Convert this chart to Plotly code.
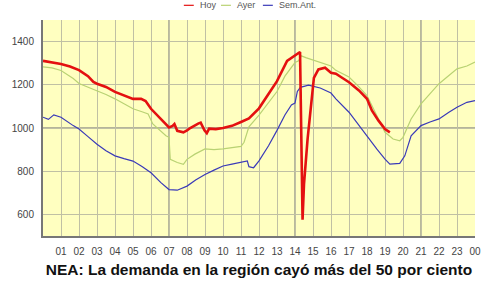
import plotly.graph_objects as go

# Hours of the day (0-24) and demand values (MW)
hoy_h = [0, 0.5, 1, 1.5, 2, 2.5, 2.8, 3, 3.5, 4, 4.5, 5, 5.45, 5.7, 6, 6.55, 7, 7.2, 7.3, 7.46, 7.8,
         8, 8.18, 8.62, 8.76, 8.97, 9.1, 9.23, 9.6, 10, 10.5, 11, 11.44, 12, 12.5, 13, 13.56, 14,
         14.28, 14.42, 14.5, 14.7, 14.9, 15.05, 15.3, 15.67, 16, 16.27, 16.55, 17, 17.55, 18,
         18.27, 18.64, 19, 19.27]
hoy_v = [1311, 1305, 1296, 1285, 1268, 1240, 1213, 1205, 1190, 1167, 1152, 1135, 1135, 1125, 1089,
         1042, 1003, 1010, 1018, 987, 980, 989, 1000, 1020, 1025, 989, 976, 997, 995, 1000, 1010,
         1028, 1044, 1091, 1154, 1217, 1311, 1334, 1352, 575, 740, 950, 1107, 1232, 1271, 1279,
         1256, 1251, 1236, 1212, 1174, 1135, 1081, 1034, 995, 980]

ayer_h = [0, 0.5, 1, 1.68, 2, 2.5, 3, 3.5, 4, 4.5, 5, 5.5, 5.84, 6.1, 6.5, 6.83, 7, 7.07, 7.46,
          7.8, 8, 8.44, 9, 9.5, 10, 10.5, 11, 11.17, 11.44, 12, 12.5, 13, 13.44, 14, 14.2, 14.35,
          14.6, 15, 15.3, 15.55, 16, 16.27, 17, 17.5, 18, 18.55, 19, 19.45, 19.82, 20, 20.45, 21,
          21.55, 22, 22.55, 23, 23.55, 24]
ayer_v = [1283, 1278, 1266, 1229, 1206, 1190, 1174, 1155, 1135, 1112, 1089, 1075, 1065, 1019, 990,
          964, 957, 855, 840, 832, 855, 879, 903, 900, 903, 908, 915, 934, 1005, 1060, 1115, 1169,
          1240, 1303, 1311, 1334, 1326, 1314, 1308, 1298, 1287, 1267, 1236, 1195, 1150, 1057, 980,
          949, 941, 957, 1042, 1112, 1166, 1205, 1243, 1274, 1287, 1305]

sem_h = [0, 0.3, 0.6, 1, 1.68, 2, 2.5, 3, 3.5, 4, 4.5, 5, 5.5, 6, 6.55, 7, 7.46, 8, 8.5, 9, 9.5,
         10, 10.5, 11, 11.35, 11.44, 11.7, 12, 12.53, 13, 13.44, 13.8, 14, 14.13, 14.3, 14.75, 15,
         15.4, 16, 16.27, 17, 17.55, 18, 18.55, 19, 19.27, 19.82, 20.1, 20.45, 21, 21.5, 22,
         22.55, 23, 23.55, 24]
sem_v = [1050, 1040, 1061, 1050, 1011, 995, 960, 925, 895, 871, 858, 847, 822, 793, 747, 715, 712,
         731, 760, 785, 805, 824, 833, 840, 848, 821, 816, 848, 918, 989, 1060, 1107, 1115, 1169,
         1188, 1198, 1193, 1185, 1162, 1135, 1073, 1011, 964, 902, 856, 833, 836, 871, 964, 1011,
         1028, 1042, 1073, 1096, 1119, 1127]

x_tickvals = list(range(1, 25))
x_ticktext = ["01", "02", "03", "04", "05", "06", "07", "08", "09", "10", "11", "12",
              "13", "14", "15", "16", "17", "18", "19", "20", "21", "22", "23", "00"]
y_tickvals = [600, 800, 1000, 1200, 1400]

series_names = ["Hoy", "Ayer", "Sem.Ant."]
series_colors = ["#e41010", "#b9d273", "#3a3ab8"]

title_text = "NEA: La demanda en la región cayó más del 50 por ciento"

fig = go.Figure()
fig.add_trace(go.Scatter(x=ayer_h, y=ayer_v, mode="lines", name="Ayer",
                         line=dict(color=series_colors[1], width=1.2), showlegend=False))
fig.add_trace(go.Scatter(x=sem_h, y=sem_v, mode="lines", name="Sem.Ant.",
                         line=dict(color=series_colors[2], width=1.2), showlegend=False))
fig.add_trace(go.Scatter(x=hoy_h, y=hoy_v, mode="lines", name="Hoy",
                         line=dict(color=series_colors[0], width=2.6), showlegend=False))

shapes = []
# emphasized grid lines
for hx in [7, 14, 21]:
    shapes.append(dict(type="line", xref="x", yref="paper", x0=hx, x1=hx, y0=0, y1=1,
                       line=dict(color="#9c9c8c", width=1.4), layer="below"))
shapes.append(dict(type="line", xref="paper", yref="y", x0=0, x1=1, y0=1000, y1=1000,
                   line=dict(color="#9c9c8c", width=1.4), layer="below"))

# manual compact legend
leg_x = [0.326, 0.412, 0.509]
txt_x = [0.358, 0.444, 0.541]
annotations = []
for i, nm in enumerate(series_names):
    shapes.append(dict(type="line", xref="paper", yref="paper", x0=leg_x[i], x1=leg_x[i] + 0.023,
                       y0=1.068, y1=1.068, line=dict(color=series_colors[i], width=1.2)))
    annotations.append(dict(xref="paper", yref="paper", x=txt_x[i], y=1.068, text=nm,
                            showarrow=False, xanchor="left", yanchor="middle",
                            font=dict(family="Liberation Sans, Arial", size=9, color="#555555")))

fig.update_layout(
    width=500, height=281,
    margin=dict(l=33, r=25, t=20, b=45),
    paper_bgcolor="white",
    plot_bgcolor="#ffffc0",
    shapes=shapes,
    annotations=annotations,
    title=dict(text="<b>" + title_text + "</b>", x=0.5, xanchor="center", xref="paper",
               y=0.04, yref="container", yanchor="middle",
               font=dict(family="Liberation Sans, Arial", size=15.5, color="#111111")),
    xaxis=dict(range=[0, 24], tickvals=x_tickvals, ticktext=x_ticktext,
               showgrid=True, gridcolor="#c0c0a4", gridwidth=1,
               showline=True, linecolor="#777777", linewidth=2,
               ticks="outside", ticklen=5, tickcolor="rgba(0,0,0,0)",
               tickfont=dict(family="Liberation Sans, Arial", size=10, color="#444444"),
               zeroline=False, fixedrange=True),
    yaxis=dict(range=[500, 1500], tickvals=y_tickvals,
               showgrid=True, gridcolor="#c0c0a4", gridwidth=1,
               showline=True, linecolor="#777777", linewidth=2,
               ticks="outside", ticklen=5, tickcolor="rgba(0,0,0,0)",
               tickfont=dict(family="Liberation Sans, Arial", size=10, color="#444444"),
               zeroline=False, fixedrange=True),
)

fig.write_html("out.html")
